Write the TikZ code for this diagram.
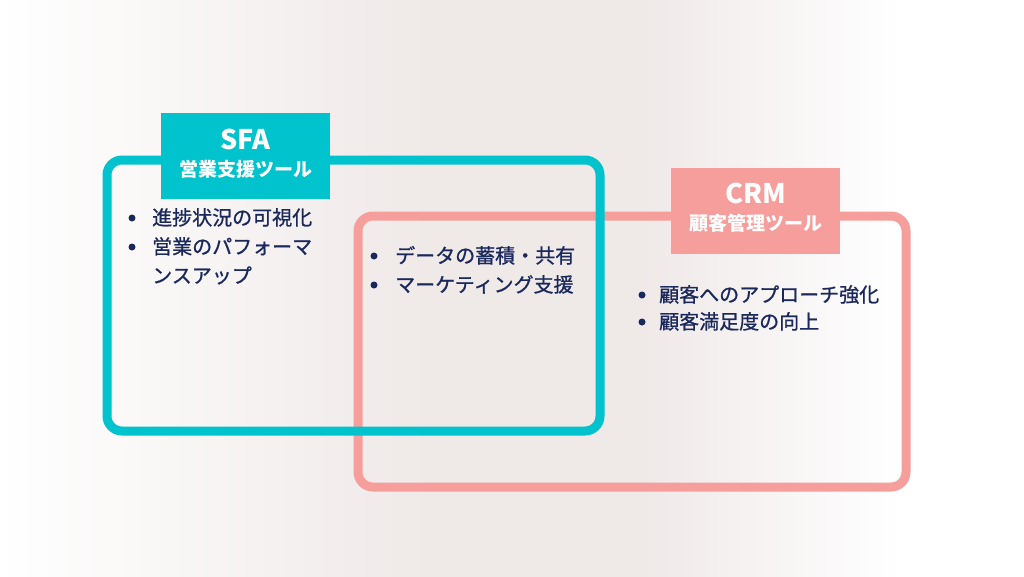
\documentclass[tikz,border=0pt]{standalone}
\usepackage{fontspec}
\setmainfont{Noto Sans CJK JP}
\newfontfamily\itemfont{Noto Sans CJK JP}[FakeBold=0.9]

\definecolor{sfateal}{HTML}{00C3CD}
\definecolor{crmpink}{HTML}{F59E9B}
\definecolor{textnavy}{HTML}{1A285C}
\definecolor{bggray}{HTML}{EFE9E8}

\begin{document}
\begin{tikzpicture}[x=1pt,y=-1pt,
  frame/.style={line width=9pt, rounded corners=15pt},
  tagbox/.style={minimum width=169pt, minimum height=86pt, inner sep=0pt},
  tagtext/.style={text=white, font=\bfseries, inner sep=0pt},
  item/.style={anchor=base west, text=textnavy, inner sep=0pt, font=\itemfont\fontsize{20}{28}\selectfont}]

\useasboundingbox (0,0) rectangle (1024,576);

% background
\shade [left color=white, right color=bggray] (-2,-2) rectangle (432,580);
\fill [bggray] (430,-2) rectangle (642,580);
\shade [left color=bggray, right color=white] (640,-2) rectangle (900,580);

% frames
\draw [crmpink, frame] (358,216) rectangle (906,487);
\draw [sfateal, frame] (107,160) rectangle (600,431);

% SFA tag
\node [tagbox, fill=sfateal] (sfa) at (245.5,156) {};
\node [tagtext, font=\bfseries\fontsize{27}{30}\selectfont] (sfatitle) at (245.5,139) {SFA};
\node [tagtext, font=\bfseries\fontsize{19}{24}\selectfont] (sfasub) at (245.5,169) {営業支援ツール};

% CRM tag
\node [tagbox, fill=crmpink] (crm) at (755.5,210.5) {};
\node [tagtext, font=\bfseries\fontsize{27}{30}\selectfont] (crmtitle) at (755.5,193) {CRM};
\node [tagtext, font=\bfseries\fontsize{19}{24}\selectfont] (crmsub) at (755.5,223) {顧客管理ツール};

% bullets
\foreach \x/\y in {132/218, 132/247, 374/256, 374/285, 642/295, 642/322} {
	\fill [textnavy] (\x,\y) circle (3.5pt);
}

% SFA items
\node [item] (sfaa) at (152,225) {進捗状況の可視化};
\node [item] (sfab) at (152,254) {営業のパフォーマ};
\node [item] (sfac) at (152,283) {ンスアップ};

% shared items
\node [item] (bothA) at (395,263) {データの蓄積・共有};
\node [item] (bothB) at (395,292) {マーケティング支援};

% CRM items
\node [item] (crma) at (659,302) {顧客へのアプローチ強化};
\node [item] (crmb) at (659,329) {顧客満足度の向上};

\end{tikzpicture}
\end{document}
